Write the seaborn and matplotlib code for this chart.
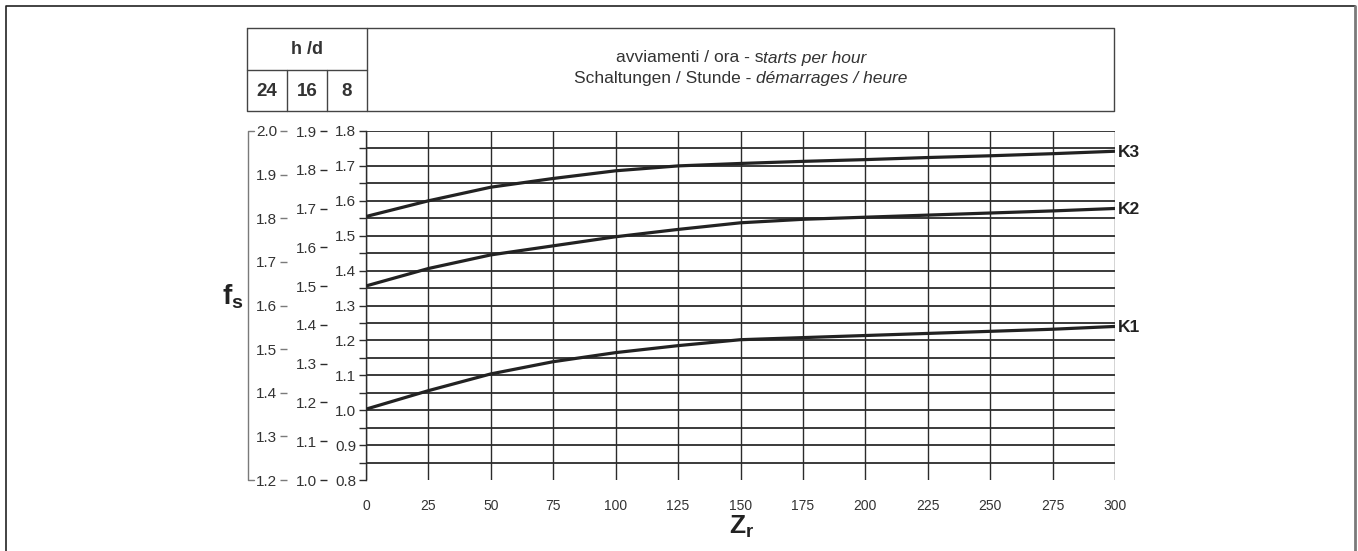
import numpy as np
import pandas as pd
import matplotlib
matplotlib.use("Agg")
import matplotlib.pyplot as plt
import seaborn as sns
from matplotlib.lines import Line2D

# values
zr = [0, 25, 50, 75, 100, 125, 150, 175, 200, 225, 250, 275, 300]
k1 = [1.003, 1.056, 1.104, 1.139, 1.165, 1.185, 1.202, 1.208, 1.214, 1.220, 1.226, 1.232, 1.240]
k2 = [1.356, 1.406, 1.445, 1.471, 1.497, 1.518, 1.537, 1.547, 1.553, 1.559, 1.565, 1.571, 1.578]
k3 = [1.555, 1.600, 1.639, 1.664, 1.686, 1.700, 1.707, 1.713, 1.718, 1.724, 1.729, 1.735, 1.742]
curve_names = ["K1", "K2", "K3"]

# three fs scales (8, 16, 24 h/d)
ticks_8h = [0.8, 0.9, 1.0, 1.1, 1.2, 1.3, 1.4, 1.5, 1.6, 1.7, 1.8]
ticks_16h = [1.0, 1.1, 1.2, 1.3, 1.4, 1.5, 1.6, 1.7, 1.8, 1.9]
ticks_24h = [1.2, 1.3, 1.4, 1.5, 1.6, 1.7, 1.8, 1.9, 2.0]
hours = ["24", "16", "8"]
header_lines = [("avviamenti / ora - s", "tarts per hour"),
                ("Schaltungen / Stunde - ", "démarrages / heure")]

df = pd.DataFrame({
    "Zr": zr * 3,
    "fs": k1 + k2 + k3,
    "curve": ["K1"] * len(zr) + ["K2"] * len(zr) + ["K3"] * len(zr),
})

sns.set_style("white")
plt.rcParams["font.family"] = ["Liberation Sans", "DejaVu Sans"]
plt.rcParams["mathtext.fontset"] = "custom"
plt.rcParams["mathtext.rm"] = "Liberation Sans"
plt.rcParams["mathtext.it"] = "Liberation Sans:italic"
plt.rcParams["mathtext.bf"] = "Liberation Sans:bold"

W, H = 1358, 551
fig = plt.figure(figsize=(W / 100, H / 100), dpi=100)

def fx(px):
    return px / W

def fy(py):
    return 1 - py / H

ax_l, ax_r, ax_t, ax_b = 366, 1115, 131, 480
rect = [fx(ax_l), fy(ax_b), fx(ax_r) - fx(ax_l), fy(ax_t) - fy(ax_b)]
dark = "#2b2b2b"
grey = "#7a7a7a"
txt = "#333333"

ax = fig.add_axes(rect)
sns.lineplot(data=df, x="Zr", y="fs", hue="curve", palette=["#222222"] * 3,
             linewidth=2.3, legend=False, ax=ax, zorder=5)
ax.set_xlim(0, 300)
ax.set_ylim(ticks_8h[0], ticks_8h[-1])
ax.set_xticks(zr)
ax.set_xticks([0, 100, 200, 300], minor=True)
ax.set_yticks(ticks_8h)
ax.set_yticks([t + 0.05 for t in ticks_8h[:-1]], minor=True)
ax.tick_params(axis="x", which="major", length=0, pad=14, labelsize=10, labelcolor=txt)
ax.tick_params(axis="x", which="minor", length=5, width=1.0, color=dark, direction="out")
ax.tick_params(axis="y", which="both", length=5, width=1.0, color=dark, pad=2,
               labelsize=11, labelcolor=txt, direction="out", left=True)
ax.grid(axis="y", which="both", color=dark, linewidth=1.3)
ax.grid(axis="x", which="major", color=dark, linewidth=1.0)
for i, gl in enumerate(ax.yaxis.get_gridlines()):
    if i == 0:
        gl.set_visible(False)
for sp in ["top", "right", "bottom"]:
    ax.spines[sp].set_visible(False)
ax.spines["left"].set_color(dark)
ax.spines["left"].set_linewidth(1.0)
ax.set_xlabel("")
ax.set_ylabel("")

for name, vals in zip(curve_names, [k1, k2, k3]):
    ax.annotate(name, xy=(zr[-1], vals[-1]), xytext=(2, -1), textcoords="offset points",
                ha="left", va="center", fontsize=12.5, fontweight="bold", color="#222222")

# additional fs scales at the left
def extra_scale(ticks, offset, color):
    a = fig.add_axes(rect, frameon=False)
    a.patch.set_visible(False)
    a.set_xticks([])
    a.set_ylim(ticks[0], ticks[-1])
    a.set_yticks(ticks)
    a.spines["left"].set_visible(True)
    a.spines["left"].set_position(("axes", offset))
    a.spines["left"].set_color(color)
    a.spines["left"].set_linewidth(1.0)
    a.tick_params(axis="y", length=5, width=1.0, color=color, pad=2,
                  labelsize=11, labelcolor=txt, direction="out", left=True)
    return a

span = ax_r - ax_l
extra_scale(ticks_16h, (327 - ax_l) / span, dark)
extra_scale(ticks_24h, (287 - ax_l) / span, grey)

# bracket of the 24 h/d scale
fig.add_artist(Line2D([fx(254), fx(248), fx(248), fx(254)],
                      [fy(ax_t), fy(ax_t), fy(ax_b), fy(ax_b)], color=grey, lw=1.0))

fig.text(fx(233), fy(297), r"$\mathbf{f}_{\mathbf{s}}$", fontsize=20, ha="center", va="center", color="#222222")
fig.text(fx(742), fy(527), r"$\mathbf{Z}_{\mathbf{r}}$", fontsize=19, ha="center", va="center", color="#222222")

# header table
hl, hr, ht, hb, hm = 247, 1114, 28, 111, 70
box = dict(color="#444444", lw=1.0)
fig.add_artist(Line2D([fx(hl), fx(hr), fx(hr), fx(hl), fx(hl)],
                      [fy(ht), fy(ht), fy(hb), fy(hb), fy(ht)], **box))
fig.add_artist(Line2D([fx(hl), fx(367)], [fy(hm), fy(hm)], **box))
fig.add_artist(Line2D([fx(367), fx(367)], [fy(ht), fy(hb)], **box))
for xv in [287, 327]:
    fig.add_artist(Line2D([fx(xv), fx(xv)], [fy(hm), fy(hb)], **box))
fig.text(fx(307), fy(49), "h /d", fontsize=13, fontweight="bold", ha="center", va="center", color=txt)
for xc, lab in zip([267, 307, 347], hours):
    fig.text(fx(xc), fy(91), lab, fontsize=13.5, fontweight="bold", ha="center", va="center", color=txt)

# header lines: upright part followed by italic part, centred together
renderer = fig.canvas.get_renderer()
for (up, it), yc in zip(header_lines, [58, 78]):
    t1 = fig.text(0, fy(yc), up, fontsize=12.5, ha="left", va="center", color=txt)
    t2 = fig.text(0, fy(yc), it, fontsize=12.5, style="italic", ha="left", va="center", color=txt)
    w1 = t1.get_window_extent(renderer).width
    w2 = t2.get_window_extent(renderer).width
    x0 = 741 - (w1 + w2) / 2
    t1.set_x(fx(x0))
    t2.set_x(fx(x0 + w1))

# outer frame
fig.add_artist(Line2D([fx(6), fx(6), fx(1355)], [0, fy(6), fy(6)], color="#222222", lw=1.2))
fig.add_artist(Line2D([fx(1355), fx(1355)], [fy(6), 0], color=grey, lw=2.0))

fig.savefig("out.png", dpi=100)
